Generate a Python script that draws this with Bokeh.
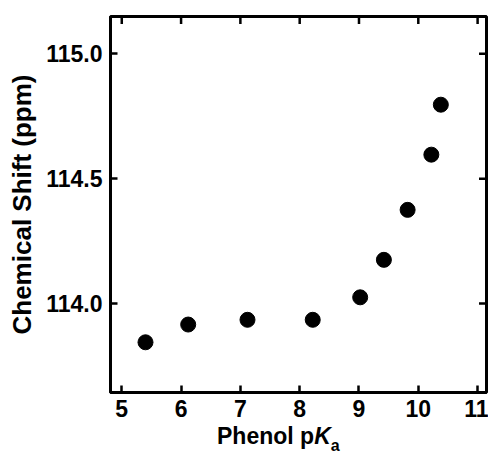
import math
from bokeh.plotting import figure
from bokeh.models import (LinearAxis, FixedTicker, PrintfTickFormatter, Range1d,
                          ColumnDataSource, Div)
from bokeh.layouts import column
from bokeh.embed import file_html
from bokeh.resources import INLINE

# Data
pka = [5.40, 6.12, 7.12, 8.22, 9.02, 9.42, 9.82, 10.22, 10.38]
shift = [113.845, 113.916, 113.935, 113.935, 114.025, 114.175, 114.375, 114.596, 114.796]
x_ticks = [5, 6, 7, 8, 9, 10, 11]
y_ticks = [114.0, 114.5, 115.0]
y_title = "Chemical Shift (ppm)"

FONT = "Liberation Sans"
W = 488
XR = (4.81, 11.15)
YR = (113.644, 115.149)

p = figure(width=W, height=425, output_backend="svg", toolbar_location=None,
           x_range=Range1d(*XR), y_range=Range1d(*YR),
           min_border_left=110, min_border_right=2, min_border_top=16,
           min_border_bottom=33, x_axis_location=None, y_axis_location=None)
p.grid.visible = False
p.background_fill_color = "white"
p.border_fill_color = "white"
p.outline_line_color = "black"
p.outline_line_width = 3

def style(ax, ticks):
    ax.ticker = FixedTicker(ticks=ticks)
    ax.axis_line_color = "black"
    ax.axis_line_width = 3
    ax.major_tick_line_color = "black"
    ax.major_tick_line_width = 2.5
    ax.major_tick_in = 7
    ax.major_tick_out = 0
    ax.minor_tick_line_color = None
    ax.major_label_text_font = FONT
    ax.major_label_text_font_style = "bold"
    ax.major_label_text_color = "black"
    ax.major_label_text_font_size = "23px"

xb = LinearAxis()
style(xb, x_ticks)
xb.major_label_standoff = 7
p.add_layout(xb, "below")

yl = LinearAxis(formatter=PrintfTickFormatter(format="%.1f"))
style(yl, y_ticks)
yl.major_label_standoff = 8
yl.axis_label = y_title
yl.axis_label_text_font = FONT
yl.axis_label_text_font_style = "bold"
yl.axis_label_text_font_size = "26px"
yl.axis_label_text_color = "black"
yl.axis_label_standoff = 6
p.add_layout(yl, "left")

# Inward ticks on the top and right edges (half of each dash is clipped by the frame)
p.scatter(x=x_ticks, y=[YR[1]] * len(x_ticks), marker="dash", angle=math.pi / 2,
          size=15, line_color="black", line_width=2.5)
p.scatter(x=[XR[1]] * len(y_ticks), y=y_ticks, marker="dash",
          size=15, line_color="black", line_width=2.5)

src = ColumnDataSource(dict(x=pka, y=shift))
p.scatter("x", "y", source=src, size=15, color="black")

# x-axis title with italic K and subscript a
xlabel = Div(
    text=('<div style="font-family:\'Liberation Sans\';font-weight:bold;'
          'font-size:23px;line-height:23px;color:black;padding-left:217px;'
          'white-space:nowrap;margin:0">Phenol p<i>K</i>'
          '<span style="font-size:16px;vertical-align:-7px">a</span></div>'),
    width=W, height=30, margin=0)

layout = column(p, xlabel, spacing=0)
open("out.html", "w").write(file_html(layout, INLINE))
